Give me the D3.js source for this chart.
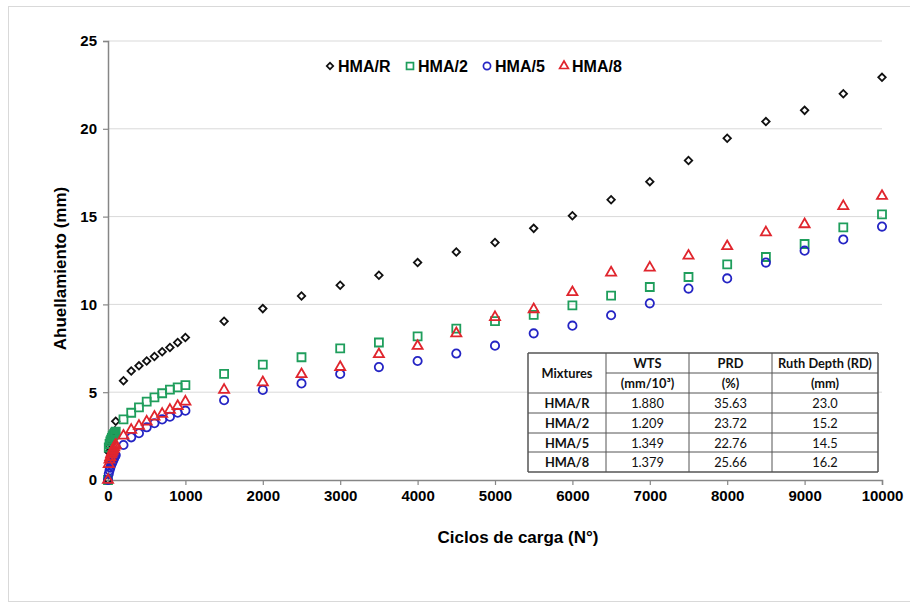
<!DOCTYPE html>
<html>
<head>
<meta charset="utf-8">
<script src="https://cdn.jsdelivr.net/npm/d3@7"></script>
<style>
  body { margin: 0; background: #fff; }
  svg text { font-family: "Liberation Sans", Arial, sans-serif; }
</style>
</head>
<body>
<div id="chart"></div>
<script>
// ciclos de carga (shared x for all mixtures)
var cycles = [0, 10, 20, 30, 40, 50, 60, 70, 80, 90, 100,
  200, 300, 400, 500, 600, 700, 800, 900, 1000,
  1500, 2000, 2500, 3000, 3500, 4000, 4500, 5000, 5500,
  6000, 6500, 7000, 7500, 8000, 8500, 9000, 9500, 10000];

var hmaR = [0, 1.6, 1.9, 2.1, 2.25, 2.4, 2.5, 2.6, 2.7, 2.8, 3.35,
  5.65, 6.21, 6.5, 6.78, 7.03, 7.3, 7.55, 7.83, 8.12,
  9.04, 9.76, 10.48, 11.09, 11.66, 12.38, 12.98, 13.52, 14.33,
  15.05, 15.96, 16.99, 18.19, 19.46, 20.41, 21.05, 22.0, 22.93];
var hma2 = [0, 1.85, 2.05, 2.2, 2.3, 2.4, 2.5, 2.55, 2.62, 2.7, 2.75,
  3.45, 3.83, 4.14, 4.46, 4.71, 4.94, 5.15, 5.28, 5.4,
  6.04, 6.57, 6.99, 7.5, 7.83, 8.18, 8.62, 9.05, 9.4,
  9.95, 10.5, 10.99, 11.56, 12.28, 12.7, 13.44, 14.39, 15.13];
var hma5 = [0, 0.35, 0.55, 0.7, 0.85, 0.95, 1.05, 1.15, 1.25, 1.35, 1.42,
  1.99, 2.43, 2.66, 3.0, 3.23, 3.45, 3.6, 3.83, 3.95,
  4.54, 5.13, 5.5, 6.04, 6.43, 6.78, 7.2, 7.65, 8.35,
  8.79, 9.38, 10.06, 10.9, 11.48, 12.38, 13.06, 13.7, 14.43];
var hma8 = [0, 0.9, 1.15, 1.3, 1.45, 1.55, 1.65, 1.75, 1.85, 1.95, 2.0,
  2.52, 2.85, 3.08, 3.32, 3.6, 3.76, 3.99, 4.21, 4.46,
  5.13, 5.56, 6.02, 6.43, 7.16, 7.63, 8.35, 9.27, 9.72,
  10.69, 11.81, 12.09, 12.77, 13.31, 14.1, 14.56, 15.59, 16.17];

var seriesNames = ["HMA/R", "HMA/2", "HMA/5", "HMA/8"];
var seriesVals = [hmaR, hma2, hma5, hma8];
var seriesColors = ["#111111", "#1f9e5c", "#2424c4", "#e0252d"];

var xTicks = [0, 1000, 2000, 3000, 4000, 5000, 6000, 7000, 8000, 9000, 10000];
var yTicks = [0, 5, 10, 15, 20, 25];

// inset table
var tableHead1 = ["Mixtures", "WTS", "PRD", "Ruth Depth (RD)"];
var tableHead2 = ["", "(mm/10³)", "(%)", "(mm)"];
var wts = ["1.880", "1.209", "1.349", "1.379"];
var prd = ["35.63", "23.72", "22.76", "25.66"];
var rd = ["23.0", "15.2", "14.5", "16.2"];

var W = 910, H = 604;
var m = {left: 108, right: 882, top: 41, bottom: 480};

var svg = d3.select("#chart").append("svg")
  .attr("width", W)
  .attr("height", H);

// outer frame
svg.append("rect")
  .attr("x", 8.5).attr("y", 6.5)
  .attr("width", 906).attr("height", 595)
  .attr("fill", "#fff")
  .attr("stroke", "#d9d9d9");

var x = d3.scaleLinear().domain([0, 10000]).range([m.left, m.right]);
var y = d3.scaleLinear().domain([0, 25]).range([m.bottom, m.top]);

// gridlines
svg.append("g").selectAll("line")
  .data(yTicks.filter(d => d > 0))
  .enter().append("line")
  .attr("x1", m.left).attr("x2", m.right)
  .attr("y1", d => y(d)).attr("y2", d => y(d))
  .attr("stroke", "#d9d9d9")
  .attr("stroke-width", 1);

// axes
var xAxis = svg.append("g")
  .attr("transform", "translate(0," + m.bottom + ")")
  .call(d3.axisBottom(x).tickValues(xTicks).tickSize(5).tickPadding(5).tickFormat(d3.format("d")));
var yAxis = svg.append("g")
  .attr("transform", "translate(" + m.left + ",0)")
  .call(d3.axisLeft(y).tickValues(yTicks).tickSize(5).tickPadding(6));

[xAxis, yAxis].forEach(function(a) {
  a.select(".domain").attr("stroke", "#868686").attr("stroke-width", 1.5);
  a.selectAll(".tick line").attr("stroke", "#868686").attr("stroke-width", 1.2);
  a.selectAll(".tick text")
    .attr("fill", "#000")
    .style("font-family", "'Liberation Sans', Arial, sans-serif")
    .style("font-size", "15px")
    .style("font-weight", "bold");
});

svg.append("text")
  .attr("x", 518)
  .attr("y", 543)
  .attr("text-anchor", "middle")
  .style("font-size", "17px")
  .style("font-weight", "bold")
  .text("Ciclos de carga (N°)");

svg.append("text")
  .attr("transform", "translate(66," + ((m.top + m.bottom) / 2 + 8) + ") rotate(-90)")
  .attr("text-anchor", "middle")
  .style("font-size", "17px")
  .style("font-weight", "bold")
  .text("Ahuellamiento (mm)");

// markers
var symbolTypes = [d3.symbolSquare, d3.symbolSquare, d3.symbolCircle, d3.symbolTriangle];
var symbolSizes = [28, 64, 54, 44];
var symbolRot = [45, 0, 0, 0];

function marker(i, scale) {
  return d3.symbol().type(symbolTypes[i]).size(symbolSizes[i] * (scale || 1))();
}

seriesVals.forEach(function(vals, i) {
  var pts = cycles.map((c, k) => ({c: c, v: vals[k]}));
  svg.append("g").selectAll("path")
    .data(pts)
    .enter().append("path")
    .attr("d", marker(i))
    .attr("transform", d => "translate(" + x(d.c) + "," + y(d.v) + ") rotate(" + symbolRot[i] + ")")
    .attr("fill", "none")
    .attr("stroke", seriesColors[i])
    .attr("stroke-width", 1.8);
});

// legend
var legendX = [330, 410, 487, 564];
var legend = svg.append("g");
seriesNames.forEach(function(n, i) {
  legend.append("path")
    .attr("d", marker(i, 0.75))
    .attr("transform", "translate(" + legendX[i] + ",66) rotate(" + symbolRot[i] + ")")
    .attr("fill", "none")
    .attr("stroke", seriesColors[i])
    .attr("stroke-width", 1.7);
  legend.append("text")
    .attr("x", legendX[i] + 8)
    .attr("y", 72)
    .style("font-size", "16px")
    .style("font-weight", "bold")
    .text(n);
});

// table
var colX = [528, 606, 689, 772, 878];
var rowY = [353, 373, 393, 413, 433, 452, 472];
var tbl = svg.append("g");

tbl.append("rect")
  .attr("x", colX[0]).attr("y", rowY[0])
  .attr("width", colX[4] - colX[0]).attr("height", rowY[6] - rowY[0])
  .attr("fill", "#fff");

var lineCol = "#555";
rowY.forEach(function(yy, k) {
  tbl.append("line")
    .attr("x1", k === 1 ? colX[1] : colX[0]).attr("x2", colX[4])
    .attr("y1", yy).attr("y2", yy)
    .attr("stroke", lineCol)
    .attr("stroke-width", k === 0 || k === 6 ? 1.5 : 1);
});
colX.forEach(function(xx, k) {
  tbl.append("line")
    .attr("x1", xx).attr("x2", xx)
    .attr("y1", rowY[0]).attr("y2", rowY[6])
    .attr("stroke", lineCol)
    .attr("stroke-width", k === 0 || k === 4 ? 1.5 : 1);
});

function cell(ci, yy, txt, bold) {
  tbl.append("text")
    .attr("x", (colX[ci] + colX[ci + 1]) / 2)
    .attr("y", yy)
    .attr("text-anchor", "middle")
    .attr("dominant-baseline", "central")
    .style("font-size", "12.8px")
    .style("font-weight", bold ? "bold" : "normal")
    .style("font-family", "Lato, 'Open Sans', sans-serif")
    .attr("fill", "#111")
    .text(txt);
}

cell(0, (rowY[0] + rowY[2]) / 2, tableHead1[0], true);
for (var c = 1; c < 4; c++) {
  cell(c, (rowY[0] + rowY[1]) / 2, tableHead1[c], true);
  cell(c, (rowY[1] + rowY[2]) / 2, tableHead2[c], true);
}
seriesNames.forEach(function(n, r) {
  var cy = (rowY[r + 2] + rowY[r + 3]) / 2;
  cell(0, cy, n, true);
  cell(1, cy, wts[r], false);
  cell(2, cy, prd[r], false);
  cell(3, cy, rd[r], false);
});
</script>
</body>
</html>
